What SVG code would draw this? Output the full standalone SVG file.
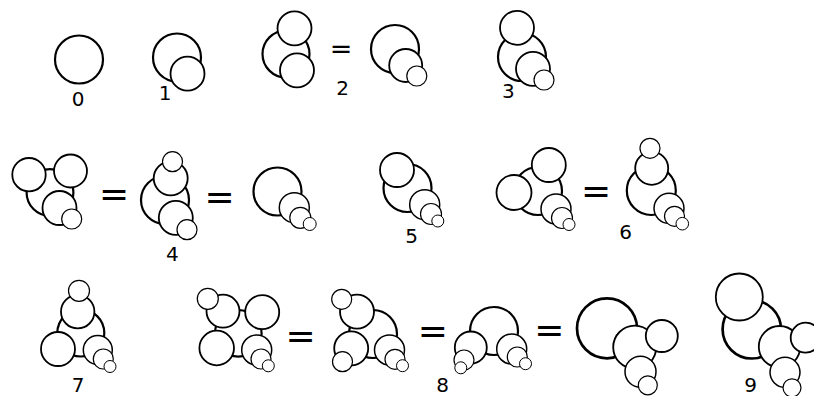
<svg xmlns="http://www.w3.org/2000/svg" width="814" height="396" viewBox="0 0 814 396">
<style>
circle{fill:#fff;stroke:#000}
.b{stroke-width:2.2}
.B{stroke-width:2.7}
.m{stroke-width:1.8}
.n{stroke-width:1.5}
.s{stroke-width:1.2}
.t{stroke-width:1}
text{font-family:"DejaVu Sans","Liberation Sans",sans-serif;fill:#000;text-anchor:middle}
.lbl{font-size:20px}
.eq{font-size:27px}
.EQ{font-size:36px}
</style>
<rect width="814" height="396" fill="#fff"/>
<g id="fig0">
<circle class="b" cx="79" cy="59.5" r="24"/>
<text class="lbl" x="78" y="106">0</text>
</g>
<g id="fig1">
<circle class="b" cx="177" cy="57.5" r="24"/>
<circle class="m" cx="187.5" cy="73.7" r="17"/>
<text class="lbl" x="165" y="100">1</text>
</g>
<g id="fig2a">
<circle class="b" cx="286" cy="54" r="23.5"/>
<circle class="m" cx="294.5" cy="28.3" r="17"/>
<circle class="m" cx="297" cy="70.3" r="17"/>
</g>
<text class="eq" x="341" y="57.5">=</text>
<g id="fig2b">
<circle class="b" cx="395" cy="49" r="24"/>
<circle class="m" cx="405.7" cy="65.5" r="16.5"/>
<circle class="s" cx="416.8" cy="76" r="10"/>
<text class="lbl" x="342.7" y="95">2</text>
</g>
<g id="fig3">
<circle class="b" cx="522" cy="57" r="24"/>
<circle class="m" cx="517" cy="27.8" r="17"/>
<circle class="m" cx="533" cy="68.8" r="17"/>
<circle class="s" cx="544" cy="80" r="10"/>
<text class="lbl" x="508.3" y="98">3</text>
</g>
<g id="fig4a">
<circle class="b" cx="50" cy="192.5" r="23.4"/>
<circle class="m" cx="29" cy="174.7" r="16.7"/>
<circle class="m" cx="70.5" cy="171" r="16.5"/>
<circle class="m" cx="59.5" cy="208" r="17"/>
<circle class="s" cx="71.7" cy="219" r="10"/>
</g>
<text class="EQ" x="114" y="205.5">=</text>
<g id="fig4b">
<circle class="b" cx="165" cy="200" r="24"/>
<circle class="m" cx="170.7" cy="178.3" r="17"/>
<circle class="s" cx="172.5" cy="161.7" r="10"/>
<circle class="m" cx="175.8" cy="217.8" r="17"/>
<circle class="s" cx="187" cy="229.7" r="10"/>
<text class="lbl" x="172.3" y="261">4</text>
</g>
<text class="EQ" x="219.7" y="208.5">=</text>
<g id="fig4c">
<circle class="b" cx="277.5" cy="191.5" r="24"/>
<circle class="n" cx="294.3" cy="207.7" r="15"/>
<circle class="s" cx="300.3" cy="217.8" r="10.5"/>
<circle class="t" cx="309.7" cy="224" r="6.5"/>
</g>
<g id="fig5">
<circle class="b" cx="407.5" cy="188" r="24"/>
<circle class="m" cx="397" cy="170" r="17"/>
<circle class="n" cx="424.7" cy="204.7" r="15"/>
<circle class="s" cx="431" cy="214" r="10.5"/>
<circle class="t" cx="437.8" cy="221" r="6"/>
<text class="lbl" x="411.7" y="243">5</text>
</g>
<g id="fig6a">
<circle class="b" cx="538" cy="191" r="24"/>
<circle class="m" cx="514" cy="192.5" r="17.5"/>
<circle class="m" cx="548.8" cy="165" r="17"/>
<circle class="n" cx="556" cy="209" r="15"/>
<circle class="s" cx="562" cy="218" r="10.5"/>
<circle class="t" cx="569" cy="224.5" r="6"/>
</g>
<text class="EQ" x="596" y="203">=</text>
<g id="fig6b">
<circle class="b" cx="651.3" cy="190.5" r="24.5"/>
<circle class="m" cx="651.7" cy="168.3" r="16.5"/>
<circle class="s" cx="650" cy="148.3" r="10"/>
<circle class="n" cx="669" cy="208.3" r="15"/>
<circle class="s" cx="674.5" cy="216.3" r="10"/>
<circle class="t" cx="682.3" cy="223.7" r="6.3"/>
<text class="lbl" x="625.7" y="239">6</text>
</g>
<g id="fig7">
<circle class="b" cx="80.8" cy="333" r="23.5"/>
<circle class="m" cx="77.7" cy="311.7" r="16.7"/>
<circle class="s" cx="79" cy="290.8" r="10.5"/>
<circle class="m" cx="58" cy="349" r="17"/>
<circle class="n" cx="97.8" cy="350" r="14.5"/>
<circle class="s" cx="103.3" cy="359" r="10"/>
<circle class="t" cx="110" cy="366.5" r="6"/>
<text class="lbl" x="78" y="392">7</text>
</g>
<g id="fig8a">
<circle class="b" cx="238.3" cy="333.3" r="23.3"/>
<circle class="m" cx="223" cy="311.2" r="16.5"/>
<circle class="s" cx="207.8" cy="298.8" r="10.5"/>
<circle class="m" cx="262.2" cy="312.2" r="17"/>
<circle class="m" cx="216.7" cy="348" r="17.3"/>
<circle class="n" cx="256.7" cy="350" r="15"/>
<circle class="s" cx="261" cy="359" r="10"/>
<circle class="t" cx="268.3" cy="365.8" r="6"/>
</g>
<text class="EQ" x="300.5" y="347.5">=</text>
<g id="fig8b">
<circle class="b" cx="373" cy="334" r="24"/>
<circle class="m" cx="357" cy="311.7" r="17"/>
<circle class="s" cx="341.7" cy="299.3" r="10"/>
<circle class="m" cx="351.2" cy="348.3" r="17"/>
<circle class="s" cx="342.5" cy="361.7" r="10"/>
<circle class="n" cx="389.5" cy="350" r="15"/>
<circle class="s" cx="395" cy="359.3" r="10"/>
<circle class="t" cx="402.5" cy="365.7" r="6"/>
</g>
<text class="EQ" x="432.8" y="342.5">=</text>
<g id="fig8c">
<circle class="b" cx="494" cy="331" r="24"/>
<circle class="m" cx="470.8" cy="347.5" r="16"/>
<circle class="s" cx="464" cy="360" r="10"/>
<circle class="t" cx="460.8" cy="367.8" r="6"/>
<circle class="n" cx="511.7" cy="349" r="15"/>
<circle class="s" cx="517.3" cy="357" r="10"/>
<circle class="t" cx="525.5" cy="363.7" r="6"/>
<text class="lbl" x="442.7" y="392">8</text>
</g>
<text class="EQ" x="549.3" y="341.5">=</text>
<g id="fig9a">
<circle class="B" cx="607" cy="328.3" r="30"/>
<circle class="m" cx="634.7" cy="347.2" r="21.5"/>
<circle class="m" cx="661.8" cy="336" r="16"/>
<circle class="n" cx="640.5" cy="371.7" r="15.5"/>
<circle class="s" cx="647.8" cy="385.3" r="9.5"/>
</g>
<g id="fig9b">
<circle class="B" cx="751.8" cy="329.3" r="29.2"/>
<circle class="m" cx="739.3" cy="297" r="23.5"/>
<circle class="m" cx="779.5" cy="346.7" r="20.7"/>
<circle class="m" cx="805.7" cy="337.7" r="15"/>
<circle class="n" cx="785" cy="372.3" r="15"/>
<circle class="s" cx="792" cy="387.8" r="9"/>
<text class="lbl" x="750.7" y="392">9</text>
</g>
</svg>
